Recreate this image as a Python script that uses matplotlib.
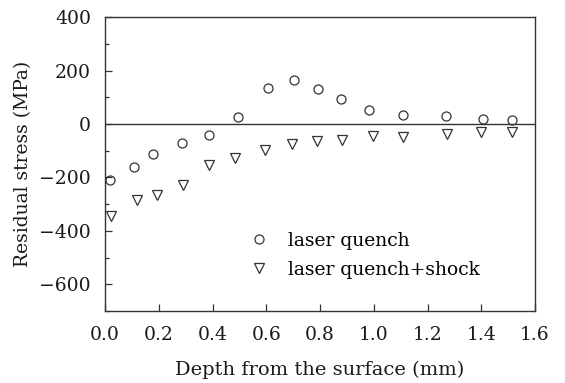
import matplotlib
matplotlib.use("Agg")
import matplotlib.pyplot as plt
from matplotlib.ticker import MultipleLocator

depth_q = [0.019, 0.109, 0.179, 0.285, 0.386, 0.495, 0.606, 0.705, 0.792, 0.879, 0.983, 1.108, 1.267, 1.405, 1.513]
stress_q = [-210, -159, -111, -69, -41, 28, 136, 167, 133, 94, 52, 34, 31, 20, 15]
depth_qs = [0.024, 0.118, 0.193, 0.289, 0.388, 0.483, 0.594, 0.697, 0.787, 0.882, 0.998, 1.107, 1.272, 1.399, 1.516]
stress_qs = [-343, -286, -264, -229, -154, -127, -96, -73, -65, -59, -44, -50, -36, -31, -28]
xticks = [0.0, 0.2, 0.4, 0.6, 0.8, 1.0, 1.2, 1.4, 1.6]
yticks = [-600, -400, -200, 0, 200, 400]

plt.rcParams['font.family'] = ['DejaVu Serif']
col = '#333333'
tcol = '#1a1a1a'
fig = plt.figure(figsize=(5.65, 3.83), dpi=100)
ax = fig.add_axes([105/565, 1-311/383, (535-105)/565, (311-17.3)/383])
ax.axhline(0, color=col, lw=1.0, zorder=1)
ax.plot(depth_q, stress_q, 'o', mfc='none', mec=col, ms=6.5, mew=0.9, label='laser quench', zorder=3)
ax.plot(depth_qs, stress_qs, 'v', mfc='none', mec=col, ms=7.5, mew=0.9, label='laser quench+shock', zorder=3)
ax.set_xlim(0, 1.6)
ax.set_ylim(-700, 400)
ax.set_xticks(xticks)
ax.set_xticklabels([f'{v:.1f}' for v in xticks])
ax.set_yticks(yticks)
ax.set_yticklabels([f'{v:d}'.replace('-', '\u2212') for v in yticks])
ax.yaxis.set_minor_locator(MultipleLocator(100))
ax.tick_params(which='both', direction='in', top=False, right=False, colors=col, labelcolor=tcol, labelsize=13.5, width=0.9)
ax.tick_params(which='major', length=5)
ax.tick_params(axis='x', which='major', pad=11)
ax.tick_params(axis='y', which='major', pad=10)
ax.tick_params(which='minor', length=3)
for s in ax.spines.values():
    s.set_color(col)
    s.set_linewidth(1.0)
ax.set_xlabel('Depth from the surface (mm)', fontsize=14, color=tcol, labelpad=12)
ax.set_ylabel('Residual stress (MPa)', fontsize=13.5, color=tcol, labelpad=5)
ax.legend(loc='center left', bbox_to_anchor=(0.292, 0.19), frameon=False, fontsize=13.5, handletextpad=0.95, labelspacing=0.6, handlelength=1.2)
fig.savefig('out.png', dpi=100)
